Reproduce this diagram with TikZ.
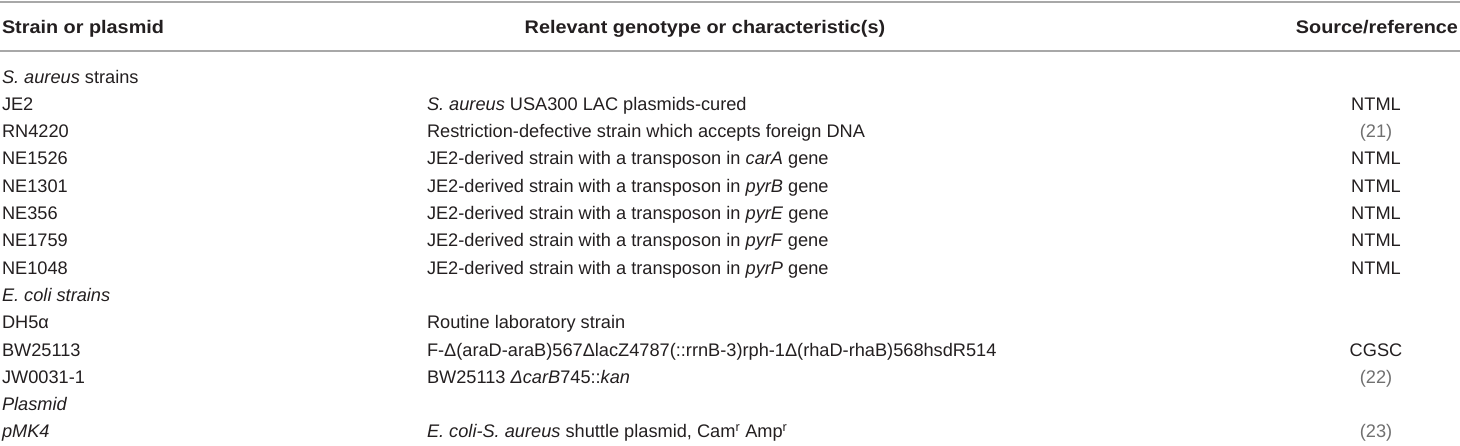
\documentclass[tikz,border=0pt]{standalone}
\usepackage{fontspec}
\setmainfont{Liberation Sans}
\newfontfamily\hdfont{Liberation Sans Bold}[FakeStretch=1.09]
\definecolor{txt}{HTML}{231F20}
\definecolor{refc}{HTML}{707070}
\definecolor{rulec}{HTML}{A8A8A8}
\begin{document}
\begin{tikzpicture}[x=1pt,y=-1pt,
  every node/.style={inner sep=0pt,outer sep=0pt,text=txt,font=\fontsize{18.2}{20}\selectfont},
  hd/.style={font=\fontsize{18.2}{20}\selectfont\hdfont},
  cA/.style={anchor=base west},
  cB/.style={anchor=base west},
  cC/.style={anchor=base},
  refn/.style={anchor=base,text=refc},
  rulel/.style={draw=rulec,line width=2pt}]
\useasboundingbox (0,0) rectangle (1460,445);
\coordinate (tl) at (0,1.5); \coordinate (tr) at (1460,1.5);
\coordinate (ml) at (0,50.5); \coordinate (mr) at (1460,50.5);
\draw[rulel] (tl) -- (tr);
\draw[rulel] (ml) -- (mr);
% header
\node[hd,anchor=base west] (h1) at (2,33) {Strain or plasmid};
\node[hd,anchor=base] (h2) at (705,33) {Relevant genotype or characteristic(s)};
\node[hd,anchor=base east] (h3) at (1458,33) {Source/reference};
% rows
\def\xa{2}\def\xb{427}\def\xc{1376}
\node[cA] (a0) at (\xa,83) {\textit{S. aureus} strains};
\node[cA] (a1) at (\xa,110.3) {JE2};
\node[cB] (b1) at (\xb,110.3) {\textit{S. aureus} USA300 LAC plasmids-cured};
\node[cC] (c1) at (\xc,110.3) {NTML};
\node[cA] (a2) at (\xa,137.6) {RN4220};
\node[cB] (b2) at (\xb,137.6) {Restriction-defective strain which accepts foreign DNA};
\node[refn] (c2) at (\xc,137.6) {(21)};
\node[cA] (a3) at (\xa,164.9) {NE1526};
\node[cB] (b3) at (\xb,164.9) {JE2-derived strain with a transposon in \textit{carA} gene};
\node[cC] (c3) at (\xc,164.9) {NTML};
\node[cA] (a4) at (\xa,192.2) {NE1301};
\node[cB] (b4) at (\xb,192.2) {JE2-derived strain with a transposon in \textit{pyrB} gene};
\node[cC] (c4) at (\xc,192.2) {NTML};
\node[cA] (a5) at (\xa,219.5) {NE356};
\node[cB] (b5) at (\xb,219.5) {JE2-derived strain with a transposon in \textit{pyrE} gene};
\node[cC] (c5) at (\xc,219.5) {NTML};
\node[cA] (a6) at (\xa,246.8) {NE1759};
\node[cB] (b6) at (\xb,246.8) {JE2-derived strain with a transposon in \textit{pyrF} gene};
\node[cC] (c6) at (\xc,246.8) {NTML};
\node[cA] (a7) at (\xa,274.1) {NE1048};
\node[cB] (b7) at (\xb,274.1) {JE2-derived strain with a transposon in \textit{pyrP} gene};
\node[cC] (c7) at (\xc,274.1) {NTML};
\node[cA] (a8) at (\xa,301.4) {\textit{E. coli strains}};
\node[cA] (a9) at (\xa,328.7) {DH5α};
\node[cB] (b9) at (\xb,328.7) {Routine laboratory strain};
\node[cA] (a10) at (\xa,356) {BW25113};
\node[cB] (b10) at (\xb,356) {F-Δ(araD-araB)567ΔlacZ4787(::rrnB-3)rph-1Δ(rhaD-rhaB)568hsdR514};
\node[cC] (c10) at (\xc,356) {CGSC};
\node[cA] (a11) at (\xa,383.3) {JW0031-1};
\node[cB] (b11) at (\xb,383.3) {BW25113 \textit{ΔcarB}745::\textit{kan}};
\node[refn] (c11) at (\xc,383.3) {(22)};
\node[cA] (a12) at (\xa,410.6) {\textit{Plasmid}};
\node[cA] (a13) at (\xa,437.9) {\textit{pMK4}};
\node[cB] (b13) at (\xb,437.9) {\textit{E. coli-S. aureus} shuttle plasmid, Cam\textsuperscript{r} Amp\textsuperscript{r}};
\node[refn] (c13) at (\xc,437.9) {(23)};
\end{tikzpicture}
\end{document}
